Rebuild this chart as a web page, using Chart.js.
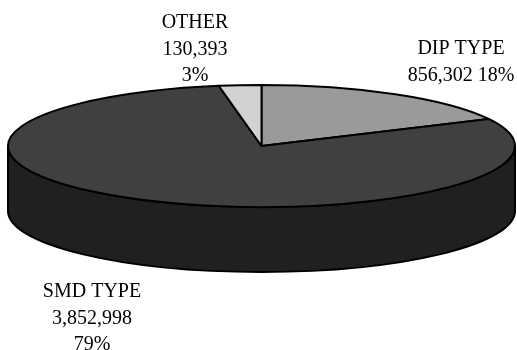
<!DOCTYPE html>
<html>
<head>
<meta charset="utf-8">
<script src="https://cdn.jsdelivr.net/npm/chart.js@4/dist/chart.umd.min.js"></script>
<style>
  body { margin: 0; background: #fff; }
</style>
</head>
<body>
<canvas id="chart" width="517" height="350"></canvas>
<script>
// Data
const categories = ['DIP TYPE', 'SMD TYPE', 'OTHER'];
const units = [856302, 3852998, 130393];
const percentLabels = ['18%', '79%', '3%'];

// Colours for the top face and the darker side wall
const topColors = ['#9a9a9a', '#404040', '#d2d2d2'];
const sideColors = ['#6a6a6a', '#202020', '#9a9a9a'];

// Fake 3D pie: squash the library's arcs into an ellipse and add a wall
const pie3d = {
  id: 'pie3d',
  beforeDatasetsDraw(chart, args, opts) {
    const ctx = chart.ctx;
    const meta = chart.getDatasetMeta(0);
    const area = chart.chartArea;
    const rx = (area.right - area.left) / 2;
    const depth = opts.depth;

    ctx.save();
    ctx.lineWidth = opts.lineWidth;
    ctx.strokeStyle = '#000';
    ctx.lineJoin = 'round';

    // side walls (front half only)
    meta.data.forEach((arc, i) => {
      const { x, y, startAngle, endAngle, outerRadius } =
        arc.getProps(['x', 'y', 'startAngle', 'endAngle', 'outerRadius'], true);
      const a = Math.max(startAngle, 0);
      const b = Math.min(endAngle, Math.PI);
      if (b <= a) return;
      ctx.beginPath();
      ctx.ellipse(x, y, rx, outerRadius, 0, a, b);
      ctx.ellipse(x, y + depth, rx, outerRadius, 0, b, a, true);
      ctx.closePath();
      ctx.fillStyle = sideColors[i];
      ctx.fill();
      ctx.stroke();
    });

    // top faces
    meta.data.forEach((arc, i) => {
      const { x, y, startAngle, endAngle, outerRadius } =
        arc.getProps(['x', 'y', 'startAngle', 'endAngle', 'outerRadius'], true);
      ctx.beginPath();
      ctx.moveTo(x, y);
      ctx.ellipse(x, y, rx, outerRadius, 0, startAngle, endAngle);
      ctx.closePath();
      ctx.fillStyle = topColors[i];
      ctx.fill();
      ctx.stroke();
    });

    ctx.restore();
    return false;
  },
  afterDraw(chart, args, opts) {
    const ctx = chart.ctx;
    ctx.save();
    ctx.font = opts.font;
    ctx.fillStyle = '#000';
    ctx.textAlign = 'center';
    ctx.textBaseline = 'alphabetic';
    categories.forEach((name, i) => {
      const pos = opts.labelPos[i];
      const value = units[i].toLocaleString('en-US');
      const lines = pos.inline
        ? [name, value + ' ' + percentLabels[i]]
        : [name, value, percentLabels[i]];
      lines.forEach((line, k) => {
        ctx.fillText(line, pos.x, pos.y + k * opts.lineHeight);
      });
    });
    ctx.restore();
  }
};

new Chart(document.getElementById('chart'), {
  type: 'pie',
  data: {
    labels: categories,
    datasets: [{
      data: units,
      backgroundColor: topColors,
      borderColor: '#000',
      borderWidth: 2
    }]
  },
  options: {
    responsive: false,
    animation: false,
    layout: {
      padding: { left: 8, right: 2, top: 84, bottom: 142 }
    },
    plugins: {
      legend: { display: false },
      tooltip: { enabled: false },
      pie3d: {
        depth: 65,
        lineWidth: 2,
        font: '20px "Liberation Serif", "Times New Roman", serif',
        lineHeight: 26.5,
        labelPos: [
          { x: 461, y: 54, inline: true },
          { x: 92, y: 297 },
          { x: 195, y: 28 }
        ]
      }
    }
  },
  plugins: [pie3d]
});
</script>
</body>
</html>
